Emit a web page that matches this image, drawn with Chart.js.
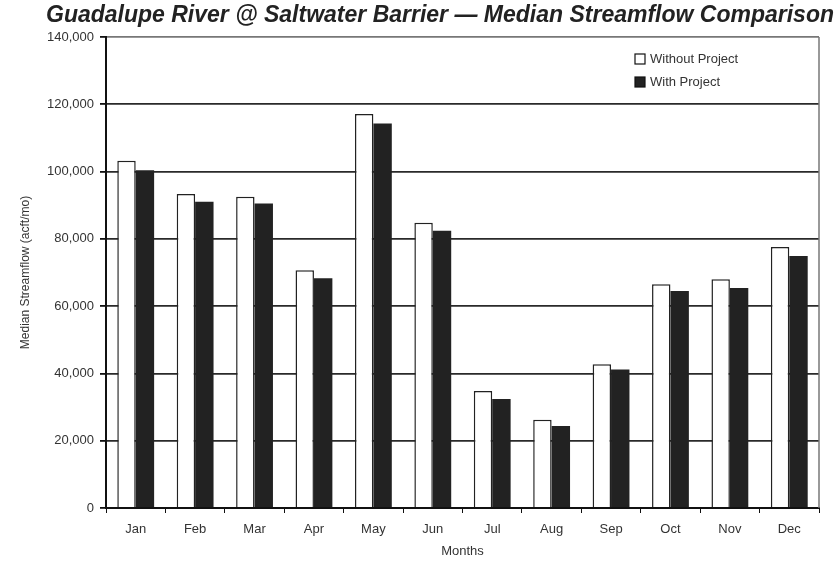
<!DOCTYPE html>
<html>
<head>
<meta charset="utf-8">
<script src="https://cdn.jsdelivr.net/npm/chart.js@4"></script>
<style>
  html, body { margin: 0; padding: 0; background: #fff; }
  #wrap { width: 835px; height: 563px; }
</style>
</head>
<body>
<div id="wrap"><canvas id="flowChart" width="835" height="563"></canvas></div>
<script>
// Guadalupe River @ Saltwater Barrier - median streamflow, with / without project
const months = ['Jan', 'Feb', 'Mar', 'Apr', 'May', 'Jun', 'Jul', 'Aug', 'Sep', 'Oct', 'Nov', 'Dec'];
const withoutProject = [103200, 93300, 92500, 70700, 117100, 84800, 34800, 26200, 42700, 66500, 68000, 77600];
const withProject = [100400, 91000, 90500, 68300, 114300, 82400, 32400, 24400, 41200, 64500, 65400, 74900];
const chartTitle = 'Guadalupe River @ Saltwater Barrier \u2014 Median Streamflow Comparison';
const yTitle = 'Median Streamflow (acft/mo)';
const xTitle = 'Months';

const FONT = 'Arial, "Liberation Sans", sans-serif';

// title drawn by hand so it can sit where the original had it
const titlePlugin = {
    id: 'titleText',
    afterDraw(chart) {
        const ctx = chart.ctx;
        ctx.save();
        ctx.font = 'italic bold 23px ' + FONT;
        ctx.fillStyle = '#222';
        ctx.textAlign = 'center';
        ctx.textBaseline = 'middle';
        ctx.fillText(chartTitle, 440, 16);
        ctx.restore();
    }
};

// right-hand frame line of the plot
const frame = {
    id: 'frame',
    beforeDatasetsDraw(chart) {
        const a = chart.chartArea;
        const ctx = chart.ctx;
        ctx.save();
        ctx.strokeStyle = '#777';
        ctx.lineWidth = 1.5;
        ctx.beginPath();
        ctx.moveTo(a.right, a.top);
        ctx.lineTo(a.right, a.bottom);
        ctx.stroke();
        ctx.restore();
    }
};

// legend box inside the plot, top right
const innerLegend = {
    id: 'innerLegend',
    afterDraw(chart) {
        const ctx = chart.ctx;
        const x = 635, y0 = 54, gap = 23;
        ctx.save();
        ctx.font = '13px ' + FONT;
        ctx.textBaseline = 'middle';
        chart.data.datasets.forEach((ds, i) => {
            const y = y0 + i * gap;
            ctx.fillStyle = ds.backgroundColor;
            ctx.fillRect(x, y, 10, 10);
            ctx.strokeStyle = '#111';
            ctx.lineWidth = 1.2;
            ctx.strokeRect(x, y, 10, 10);
            ctx.fillStyle = '#333';
            ctx.fillText(ds.label, x + 15, y + 5);
        });
        ctx.restore();
    }
};

const ctx = document.getElementById('flowChart');
new Chart(ctx, {
    type: 'bar',
    data: {
        labels: months,
        datasets: [
            {
                label: 'Without Project',
                data: withoutProject,
                backgroundColor: '#ffffff',
                borderColor: '#222',
                borderWidth: 1.5,
                barPercentage: 1,
                categoryPercentage: 0.62
            },
            {
                label: 'With Project',
                data: withProject,
                backgroundColor: '#222222',
                borderColor: '#222',
                borderWidth: 0,
                barPercentage: 1,
                categoryPercentage: 0.62
            }
        ]
    },
    options: {
        responsive: false,
        animation: false,
        layout: { padding: { top: 37, right: 16, left: 18, bottom: 0 } },
        plugins: {
            legend: { display: false },
            title: { display: false },
            tooltip: { enabled: false }
        },
        scales: {
            y: {
                min: 0,
                max: 140000,
                afterFit: s => { s.width = 88; },
                ticks: {
                    stepSize: 20000,
                    color: '#333',
                    font: { family: FONT, size: 13 },
                    padding: 6,
                    callback: v => v.toLocaleString('en-US')
                },
                grid: {
                    color: ctx => ctx.tick && ctx.tick.value === 140000 ? '#777' : '#2a2a2a',
                    lineWidth: 1.8,
                    tickLength: 6,
                    tickColor: '#111'
                },
                border: { color: '#111', width: 2 },
                title: {
                    display: true,
                    text: yTitle,
                    color: '#333',
                    font: { family: FONT, size: 12 },
                    padding: { top: 0, bottom: 4 }
                }
            },
            x: {
                afterFit: s => { s.height = 55; },
                ticks: {
                    color: '#333',
                    font: { family: FONT, size: 13 },
                    padding: 9
                },
                grid: {
                    offset: true,
                    drawOnChartArea: false,
                    tickLength: 5,
                    tickColor: '#111'
                },
                border: { color: '#111', width: 2 },
                title: {
                    display: true,
                    text: xTitle,
                    color: '#333',
                    font: { family: FONT, size: 13 },
                    padding: { top: 2 }
                }
            }
        }
    },
    plugins: [titlePlugin, frame, innerLegend]
});
</script>
</body>
</html>
